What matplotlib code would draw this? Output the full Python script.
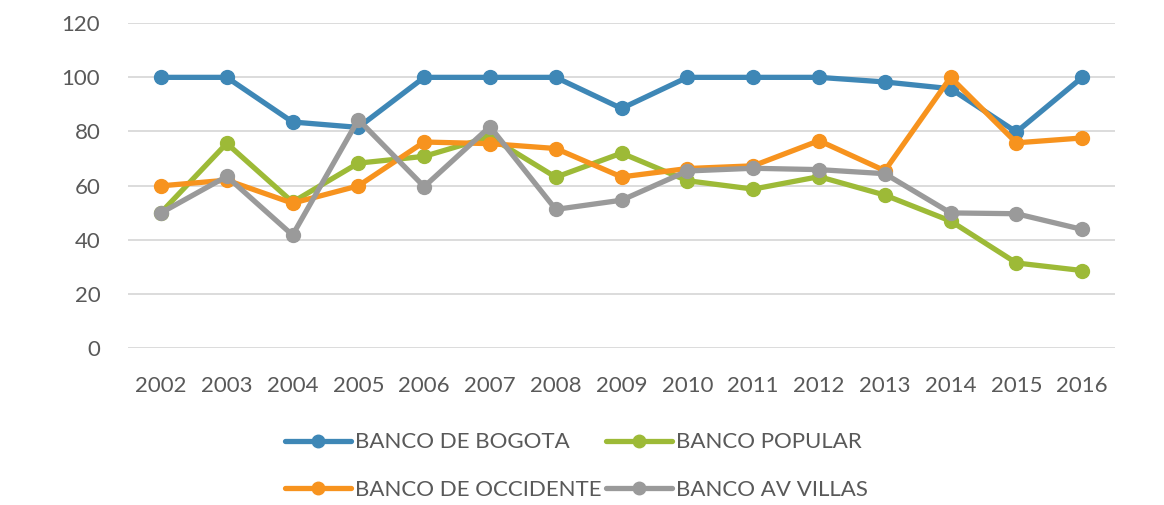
import matplotlib.pyplot as plt

# Datos
years = ['2002', '2003', '2004', '2005', '2006', '2007', '2008', '2009',
         '2010', '2011', '2012', '2013', '2014', '2015', '2016']
bogota = [100, 100, 83.5, 81.5, 100, 100, 100, 88.5, 100, 100, 100, 98.3, 95.8, 79.8, 100]
popular = [50, 75.6, 53.9, 68.3, 70.8, 78, 63.1, 72, 61.8, 58.7, 63.3, 56.5, 46.9, 31.4, 28.6]
occidente = [59.9, 62, 53.5, 59.9, 76.1, 75.5, 73.7, 63.2, 66.3, 67.3, 76.6, 65.5, 100, 75.8, 77.6]
av_villas = [49.9, 63.4, 41.7, 84.4, 59.6, 81.8, 51.2, 54.6, 65.4, 66.4, 65.9, 64.4, 49.9, 49.6, 43.8]

series = [
    ('BANCO DE BOGOTA', bogota, '#3E87B6'),
    ('BANCO POPULAR', popular, '#9DBA37'),
    ('BANCO DE OCCIDENTE', occidente, '#F7931E'),
    ('BANCO AV VILLAS', av_villas, '#9A9A9A'),
]

plt.rcParams['font.family'] = ['Lato', 'DejaVu Sans']
text_color = '#595959'

fig = plt.figure(figsize=(11.64, 5.05), dpi=100)
ax = fig.add_axes([0.110, 0.311, 0.848, 0.643])

x = list(range(len(years)))
lines = {}
for name, vals, color in series:
    ln, = ax.plot(x, vals, color=color, lw=3.8, marker='o', ms=10,
                  solid_capstyle='round', label=name)
    lines[name] = ln

ax.set_xlim(-0.5, len(years) - 0.5)
ax.set_ylim(0, 120)
ax.set_yticks(range(0, 121, 20))
ax.set_xticks(x)
ax.set_xticklabels(years)
ax.grid(axis='y', color='#D9D9D9', lw=1.3)
ax.set_axisbelow(True)
for s in ax.spines.values():
    s.set_visible(False)
ax.tick_params(length=0, labelsize=16, colors=text_color)
ax.tick_params(axis='y', pad=20)
ax.tick_params(axis='x', pad=20)

order = ['BANCO DE BOGOTA', 'BANCO DE OCCIDENTE', 'BANCO POPULAR', 'BANCO AV VILLAS']
leg = fig.legend([lines[n] for n in order], order, ncol=2, loc='lower center',
                 bbox_to_anchor=(0.495, -0.03), frameon=False, fontsize=16,
                 handlelength=3.0, columnspacing=0.2, handletextpad=0.15,
                 labelspacing=1.25, markerscale=0.9)
for t in leg.get_texts():
    t.set_color(text_color)

fig.savefig('out.png', dpi=100)
